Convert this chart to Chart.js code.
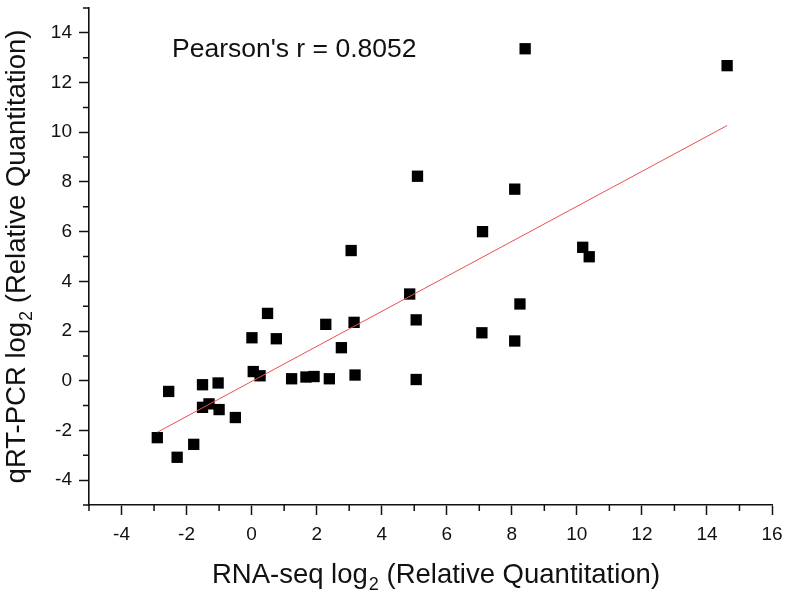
<!DOCTYPE html>
<html>
<head>
<meta charset="utf-8">
<script src="https://cdn.jsdelivr.net/npm/chart.js@4"></script>
<style>
  body { margin: 0; background: #fff; }
  #wrap { width: 788px; height: 597px; }
</style>
</head>
<body>
<div id="wrap"><canvas id="chart" width="788" height="597"></canvas></div>
<script>
// RNA-seq (x) vs qRT-PCR (y), both log2 relative quantitation
const rnaSeq = [14.62, 8.41, 5.10, 8.09, 7.10, 3.06, 10.18, 10.38, 4.86, 8.25,
                0.49, 5.06, 3.15, 2.28, 0.01, 0.76, 7.08, 8.09, 2.76, 0.05,
                0.26, 1.23, 1.67, 1.92, 2.39, 3.18, 5.06, -2.55, -1.51, -1.03,
                -1.51, -1.31, -1.00, -0.50, -2.90, -2.29, -1.78];
const qrtPcr = [12.68, 13.36, 8.23, 7.71, 6.00, 5.24, 5.37, 4.99, 3.49, 3.09,
                2.71, 2.45, 2.35, 2.27, 1.73, 1.69, 1.93, 1.60, 1.33, 0.37,
                0.20, 0.08, 0.15, 0.17, 0.08, 0.23, 0.05, -0.43, -0.16, -0.09,
                -1.07, -0.93, -1.16, -1.48, -2.29, -3.08, -2.56];

// linear fit endpoints as drawn
const fitX = [-2.90, 14.62];
const fitY = [-2.07, 10.27];

const xTicks = [-4, -2, 0, 2, 4, 6, 8, 10, 12, 14, 16];
const yTicks = [-4, -2, 0, 2, 4, 6, 8, 10, 12, 14];

const pearsonText = "Pearson's r = 0.8052";
const xTitle = ['RNA-seq log', '2', ' (Relative Quantitation)'];
const yTitle = ['qRT-PCR log', '2', ' (Relative Quantitation)'];

const FONT = '"Liberation Sans", Arial, sans-serif';
const AXIS_COLOR = '#111';

function drawTitle(ctx, parts, size) {
    const subSize = Math.round(size * 0.66);
    ctx.font = size + 'px ' + FONT;
    const w0 = ctx.measureText(parts[0]).width;
    const w2 = ctx.measureText(parts[2]).width;
    ctx.font = subSize + 'px ' + FONT;
    const w1 = ctx.measureText(parts[1]).width + 1;
    const total = w0 + w1 + w2;
    let x = -total / 2;
    ctx.textAlign = 'left';
    ctx.textBaseline = 'alphabetic';
    ctx.font = size + 'px ' + FONT;
    ctx.fillText(parts[0], x, 0);
    x += w0;
    ctx.font = subSize + 'px ' + FONT;
    ctx.fillText(parts[1], x + 1, 7);
    x += w1;
    ctx.font = size + 'px ' + FONT;
    ctx.fillText(parts[2], x, 0);
}

const extras = {
    id: 'extras',
    afterDraw(chart) {
        const ctx = chart.ctx;
        const area = chart.chartArea;
        const xs = chart.scales.x;
        const ys = chart.scales.y;

        // minor ticks
        ctx.save();
        ctx.strokeStyle = AXIS_COLOR;
        ctx.lineWidth = 1.5;
        ctx.beginPath();
        xs.ticks.forEach(t => {
            if (xTicks.includes(t.value)) return;
            const px = xs.getPixelForValue(t.value);
            ctx.moveTo(px, area.bottom);
            ctx.lineTo(px, area.bottom + 6);
        });
        ys.ticks.forEach(t => {
            if (yTicks.includes(t.value)) return;
            const py = ys.getPixelForValue(t.value);
            ctx.moveTo(area.left - 6, py);
            ctx.lineTo(area.left, py);
        });
        ctx.stroke();

        ctx.fillStyle = '#111';
        // annotation
        ctx.font = '26.5px ' + FONT;
        ctx.textAlign = 'left';
        ctx.textBaseline = 'alphabetic';
        ctx.fillText(pearsonText, 172, 57);

        // x title
        ctx.save();
        ctx.translate(436, 583);
        drawTitle(ctx, xTitle, 27.5);
        ctx.restore();

        // y title
        ctx.save();
        ctx.translate(25, (area.top + area.bottom) / 2);
        ctx.rotate(-Math.PI / 2);
        drawTitle(ctx, yTitle, 27.5);
        ctx.restore();

        ctx.restore();
    }
};

const points = rnaSeq.map((v, i) => ({ x: v, y: qrtPcr[i] }));
const fitLine = fitX.map((v, i) => ({ x: v, y: fitY[i] }));

new Chart(document.getElementById('chart'), {
    type: 'scatter',
    data: {
        datasets: [
            {
                label: 'fit',
                data: fitLine,
                showLine: true,
                borderColor: '#e8504f',
                borderWidth: 1,
                pointRadius: 0,
                fill: false
            },
            {
                label: 'genes',
                data: points,
                pointStyle: 'rect',
                pointRadius: 8,
                backgroundColor: '#000',
                borderColor: '#000',
                borderWidth: 0
            }
        ]
    },
    options: {
        responsive: false,
        animation: false,
        layout: { padding: { left: 0, right: 16, top: 5, bottom: 0 } },
        plugins: {
            legend: { display: false },
            tooltip: { enabled: false }
        },
        scales: {
            x: {
                type: 'linear',
                min: -5,
                max: 16,
                afterFit: s => { s.height = 92; s.paddingLeft = 0; s.paddingRight = 0; },
                border: { display: true, color: AXIS_COLOR, width: 1.6 },
                grid: {
                    drawOnChartArea: false,
                    drawTicks: true,
                    tickLength: 10,
                    tickWidth: 1.5,
                    tickColor: c => xTicks.includes(c.tick && c.tick.value) ? AXIS_COLOR : 'rgba(0,0,0,0)'
                },
                ticks: {
                    stepSize: 1,
                    autoSkip: false,
                    maxRotation: 0,
                    padding: 8,
                    color: '#111',
                    font: { family: FONT, size: 19 },
                    callback: v => xTicks.includes(v) ? String(v) : ''
                }
            },
            y: {
                type: 'linear',
                min: -5,
                max: 15,
                afterFit: s => { s.width = 89; s.paddingTop = 0; s.paddingBottom = 0; },
                border: { display: true, color: AXIS_COLOR, width: 1.6 },
                grid: {
                    drawOnChartArea: false,
                    drawTicks: true,
                    tickLength: 10,
                    tickWidth: 1.5,
                    tickColor: c => yTicks.includes(c.tick && c.tick.value) ? AXIS_COLOR : 'rgba(0,0,0,0)'
                },
                ticks: {
                    stepSize: 1,
                    autoSkip: false,
                    padding: 7,
                    color: '#111',
                    font: { family: FONT, size: 19 },
                    callback: v => yTicks.includes(v) ? String(v) : ''
                }
            }
        }
    },
    plugins: [extras]
});
</script>
</body>
</html>
